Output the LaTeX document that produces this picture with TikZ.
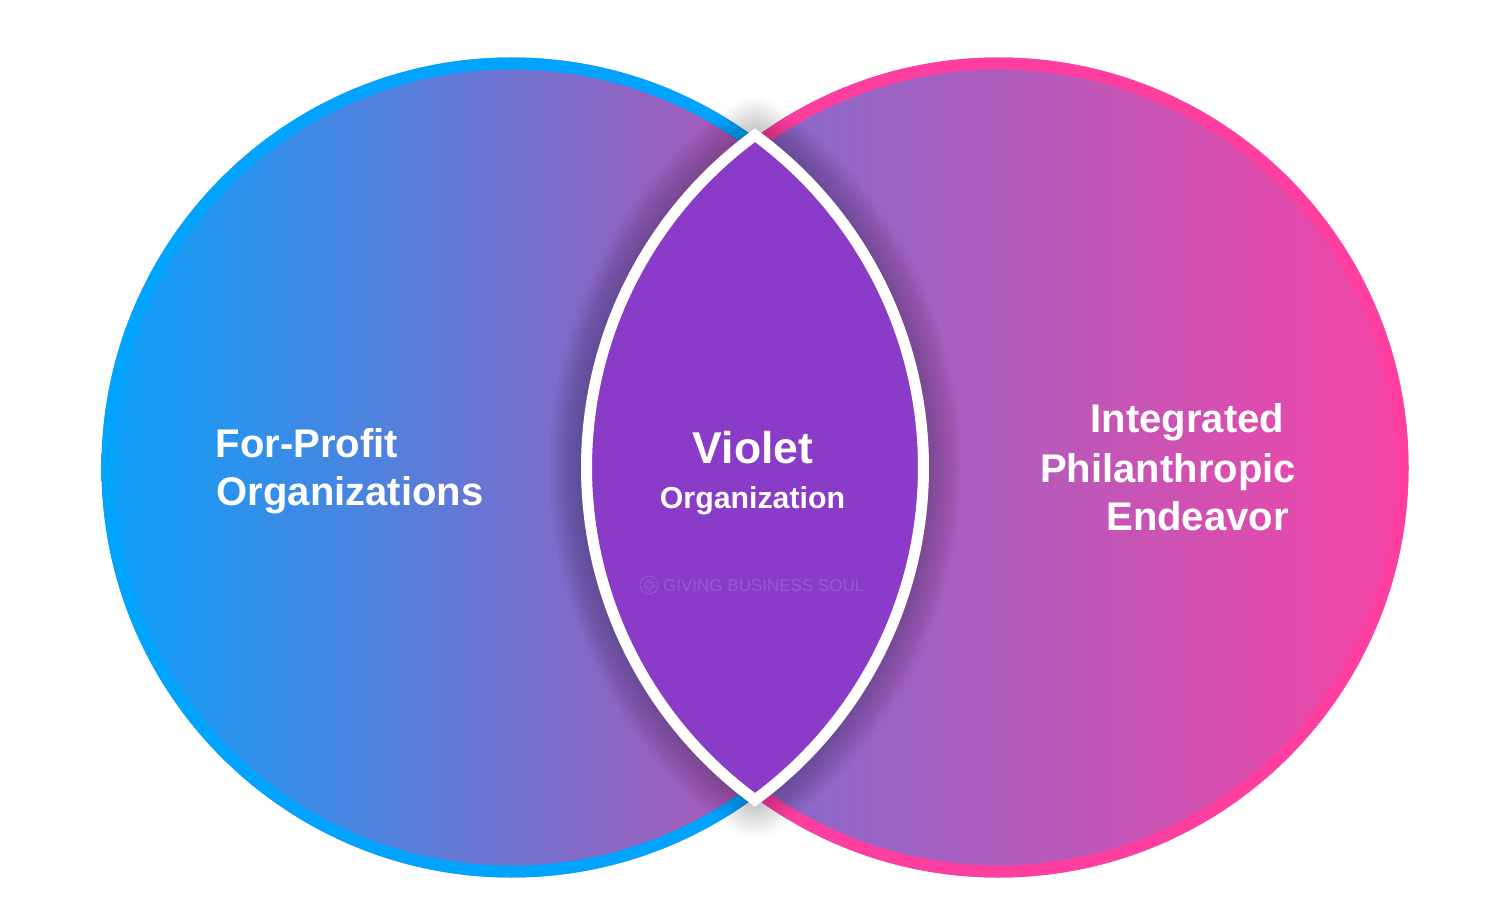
\documentclass[tikz,border=0pt]{standalone}
\usepackage{fontspec}
\setmainfont{Liberation Sans}
\usetikzlibrary{calc}
\definecolor{leftA}{RGB}{10,162,251}
\definecolor{leftB}{RGB}{215,66,162}
\definecolor{rightA}{RGB}{104,117,212}
\definecolor{rightB}{RGB}{246,68,166}
\definecolor{bordL}{RGB}{0,164,255}
\definecolor{bordR}{RGB}{255,63,160}
\definecolor{lensC}{RGB}{138,59,200}
\definecolor{wmC}{RGB}{152,90,208}
\begin{document}
\begin{tikzpicture}[x=1pt,y=-1pt,
  biglbl/.style={text=white, inner sep=0pt, font=\bfseries\fontsize{40}{47}\selectfont},
  violbl/.style={text=white, inner sep=0pt, font=\bfseries\fontsize{44.5}{50}\selectfont},
  orglbl/.style={text=white, inner sep=0pt, font=\bfseries\fontsize{30.3}{36}\selectfont},
  wmlbl/.style={text=wmC, inner sep=0pt, font=\fontsize{17}{20}\selectfont},
  lensshadow/.style={black, opacity=0.012, line join=round}]
\useasboundingbox (0,0) rectangle (1497,912);
\fill[white] (0,0) rectangle (1497,912);
\coordinate (L) at (511.5,467.5);
\coordinate (R) at (998.5,467.5);
\coordinate (T) at (755,135.2);
\coordinate (W) at (649,585);
% circle fills
\shade[left color=leftA, right color=leftB] (L) circle[radius=410];
\shade[left color=rightA, right color=rightB] (R) circle[radius=410];
% circle borders
\draw[line width=12, bordL] (L) circle[radius=404];
\draw[line width=12, bordR] (R) circle[radius=404];
% shadow around the lens
\foreach \i in {1,...,18}{
  \draw[lensshadow, line width={11+3.6*\i}] (T)
    arc[start angle=-53.77, end angle=53.77, radius=412]
    arc[start angle=126.23, end angle=233.77, radius=412] -- cycle;
}
% lens
\path[fill=lensC, draw=white, line width=11, line join=miter] (T)
    arc[start angle=-53.77, end angle=53.77, radius=412]
    arc[start angle=126.23, end angle=233.77, radius=412] -- cycle;
% labels
\node[biglbl, anchor=base west] (fp1) at (215.5,457) {For-Profit};
\node[biglbl, anchor=base west] (fp2) at (216.5,505) {Organizations};
\node[biglbl, anchor=base] (ip1) at (1187.5,432) {Integrated};
\node[biglbl, anchor=base] (ip2) at (1168,482) {Philanthropic};
\node[biglbl, anchor=base] (ip3) at (1197.5,530) {Endeavor};
\node[violbl, anchor=base] (vo1) at (753,463) {Violet};
\node[orglbl, anchor=base] (vo2) at (752.5,508) {Organization};
% watermark
\draw[wmC, line width=0.9] (W) circle[radius=9];
\foreach \a in {0,30,...,330}{
  \draw[wmC, line width=0.6] ($(W)+(\a:2.5)$) -- ($(W)+(\a:6.5)$);
}
\node[wmlbl, anchor=base west] (wm) at (663,591) {GIVING BUSINESS SOUL};
\end{tikzpicture}
\end{document}
